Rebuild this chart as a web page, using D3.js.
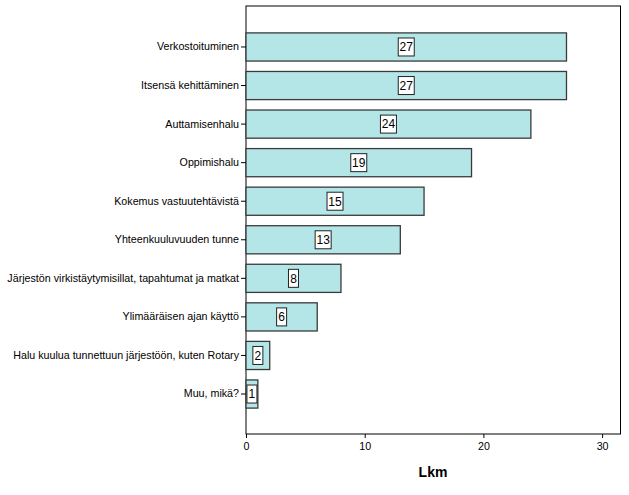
<!DOCTYPE html>
<html lang="fi">
<head>
    <meta charset="UTF-8">
    <title>Lkm</title>
    <script src="https://d3js.org/d3.v7.min.js"></script>
    <style>
        body {
            margin: 0;
            background: #fff;
            font-family: Arial, "Liberation Sans", sans-serif;
        }
        .tick text {
            font-size: 10.7px;
            fill: #000;
        }
        .bar {
            fill: #b4e6e8;
            stroke: #3a3a3a;
            stroke-width: 1.3px;
        }
        .lab rect {
            fill: #fff;
            stroke: #222;
            stroke-width: 1px;
        }
        .lab text {
            font-size: 12px;
        }
    </style>
</head>
<body>
    <svg width="629" height="495"></svg>

    <script>
        // Categories and counts (top to bottom)
        const categories = [
            "Verkostoituminen",
            "Itsensä kehittäminen",
            "Auttamisenhalu",
            "Oppimishalu",
            "Kokemus vastuutehtävistä",
            "Yhteenkuuluvuuden tunne",
            "Järjestön virkistäytymisillat, tapahtumat ja matkat",
            "Ylimääräisen ajan käyttö",
            "Halu kuulua tunnettuun järjestöön, kuten Rotary",
            "Muu, mikä?"
        ];
        const counts = [27, 27, 24, 19, 15, 13, 8, 6, 2, 1];
        const xTicks = [0, 10, 20, 30];
        const xTitle = "Lkm";

        const svg = d3.select("svg");
        const plotLeft = 246, plotRight = 620.5, plotTop = 6, plotBottom = 434;

        const x = d3.scaleLinear().domain([0, 31.55]).range([plotLeft, plotRight]);
        const y = d3.scaleBand()
            .domain(categories)
            .range([27.7, 413.3])
            .paddingInner(0.27)
            .paddingOuter(0.135);

        // plot frame
        svg.append("rect")
            .attr("x", plotLeft).attr("y", plotTop)
            .attr("width", plotRight - plotLeft).attr("height", plotBottom - plotTop)
            .attr("fill", "none")
            .attr("stroke", "#000")
            .attr("stroke-width", 1);

        // bars
        svg.append("g")
            .selectAll("rect")
            .data(counts)
            .join("rect")
            .attr("class", "bar")
            .attr("x", x(0))
            .attr("y", (d, i) => y(categories[i]))
            .attr("width", d => x(d) - x(0))
            .attr("height", y.bandwidth());

        // value labels in white boxes
        const lab = svg.append("g")
            .selectAll("g")
            .data(counts)
            .join("g")
            .attr("class", "lab")
            .attr("transform", (d, i) =>
                `translate(${(x(0) + x(d)) / 2}, ${y(categories[i]) + y.bandwidth() / 2})`);

        lab.append("rect")
            .attr("x", d => String(d).length > 1 ? -8 : -5)
            .attr("y", -9)
            .attr("width", d => String(d).length > 1 ? 16 : 10)
            .attr("height", 18);

        lab.append("text")
            .attr("text-anchor", "middle")
            .attr("dy", "0.36em")
            .text(d => d);

        // y axis
        const yAxis = svg.append("g")
            .attr("transform", `translate(${plotLeft},0)`)
            .call(d3.axisLeft(y).tickSize(5).tickPadding(2));
        yAxis.select(".domain").remove();
        yAxis.selectAll(".tick line").attr("stroke", "#000");

        // x axis
        const xAxis = svg.append("g")
            .attr("transform", `translate(0,${plotBottom})`)
            .call(d3.axisBottom(x).tickValues(xTicks).tickSize(4).tickPadding(4));
        xAxis.select(".domain").remove();
        xAxis.selectAll(".tick line").attr("stroke", "#000");

        svg.append("text")
            .attr("x", 433)
            .attr("y", 477)
            .attr("text-anchor", "middle")
            .attr("font-size", "14px")
            .attr("font-weight", "bold")
            .text(xTitle);
    </script>
</body>
</html>
